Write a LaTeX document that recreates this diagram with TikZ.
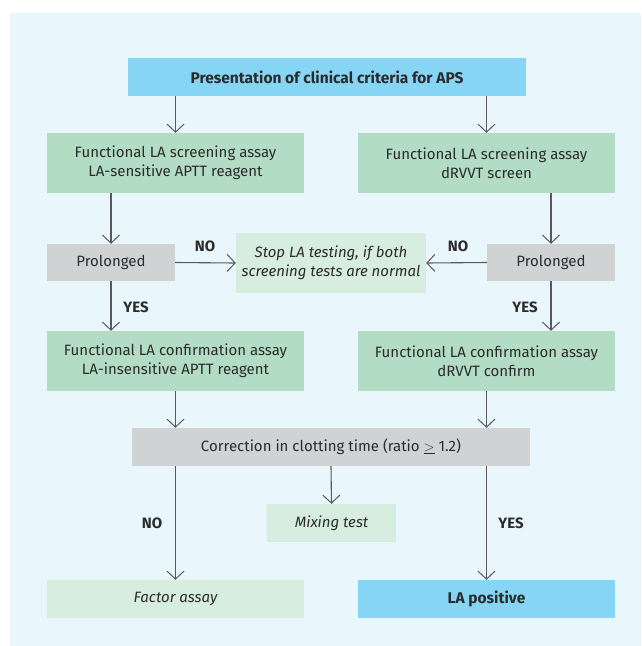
\documentclass[tikz,border=0pt]{standalone}
\usepackage{fontspec}
\setmainfont{Fira Sans}
\usetikzlibrary{arrows.meta}
\definecolor{bgc}{HTML}{E9F6FC}
\definecolor{bluec}{HTML}{86D5F5}
\definecolor{greenc}{HTML}{B2DDC4}
\definecolor{lgreenc}{HTML}{D7EDDF}
\definecolor{greyc}{HTML}{D1D2D4}
\definecolor{linec}{HTML}{58595B}
\definecolor{txtc}{HTML}{2B2B2B}
\tikzset{
  box/.style={inner sep=0pt, align=center, text=txtc, font=\fontsize{15}{18.7}\selectfont},
  bluebox/.style={box, fill=bluec, font=\fontsize{15.5}{18.7}\selectfont\bfseries},
  greenbox/.style={box, fill=greenc},
  lgreenbox/.style={box, fill=lgreenc, font=\fontsize{15}{18.7}\selectfont\itshape},
  greybox/.style={box, fill=greyc},
  lbl/.style={text=txtc, font=\fontsize{15}{18}\selectfont\bfseries, inner sep=0pt},
  arr/.style={draw=linec, line width=1.1pt, -{Straight Barb[length=8pt,width=17pt,line width=1pt]}},
}
\newcommand{\bx}[7]{% name style x1 y1 x2 y2 text
  \node[#2, minimum width={(#5-#3)*1pt}, minimum height={(#6-#4)*1pt}] (#1) at ({(#3+#5)/2},{(#4+#6)/2}) {#7};}
\begin{document}
\begin{tikzpicture}[x=1pt,y=-1pt]
\useasboundingbox (0,0) rectangle (641,646);
\fill[bgc] (10,13) rectangle (641,646);
\bx{top}{bluebox}{128}{58}{526}{96}{Presentation of clinical criteria for APS}
\bx{scrL}{greenbox}{47}{133}{304}{193}{Functional LA screening assay\\LA-sensitive APTT reagent}
\bx{scrR}{greenbox}{358}{133}{615}{193}{Functional LA screening assay\\dRVVT screen}
\bx{proL}{greybox}{47}{244}{175}{281}{Prolonged}
\bx{proR}{greybox}{487}{244}{615}{281}{Prolonged}
\bx{stop}{lgreenbox}{236}{233}{426}{293}{Stop LA testing, if both\\screening tests are normal}
\bx{confL}{greenbox}{47}{331}{304}{391}{Functional LA confirmation assay\\LA-insensitive APTT reagent}
\bx{confR}{greenbox}{358}{331}{615}{391}{Functional LA confirmation assay\\dRVVT confirm}
\bx{corr}{greybox}{132}{428}{530}{466}{Correction in clotting time (ratio $\underline{>}$ 1.2)}
\bx{mix}{lgreenbox}{267}{504}{396}{542}{Mixing test}
\bx{fact}{lgreenbox}{47}{580}{304}{618}{Factor assay}
\bx{pos}{bluebox}{358}{580}{615}{618}{LA positive}
\node[lbl] (noL) at (205,246) {NO};
\node[lbl] (noR) at (458,246) {NO};
\node[lbl] (yesL) at (136,307) {YES};
\node[lbl] (yesR) at (525,307) {YES};
\node[lbl] (noB) at (152,523) {NO};
\node[lbl] (yesB) at (511,523) {YES};
\draw[arr] (top.south -| scrL.north) -- (scrL.north);
\draw[arr] (top.south -| scrR.north) -- (scrR.north);
\draw[arr] (scrL.south -| proL.north) -- (proL.north);
\draw[arr] (scrR.south -| proR.north) -- (proR.north);
\draw[arr] (proL.east) -- (stop.west);
\draw[arr] (proR.west) -- (stop.east);
\draw[arr] (proL.south) -- (proL.south |- confL.north);
\draw[arr] (proR.south) -- (proR.south |- confR.north);
\draw[arr] (confL.south) -- (confL.south |- corr.north);
\draw[arr] (confR.south) -- (confR.south |- corr.north);
\draw[arr] (corr.south) -- (mix.north);
\draw[arr] (corr.south -| fact.north) -- (fact.north);
\draw[arr] (corr.south -| pos.north) -- (pos.north);
\end{tikzpicture}
\end{document}
